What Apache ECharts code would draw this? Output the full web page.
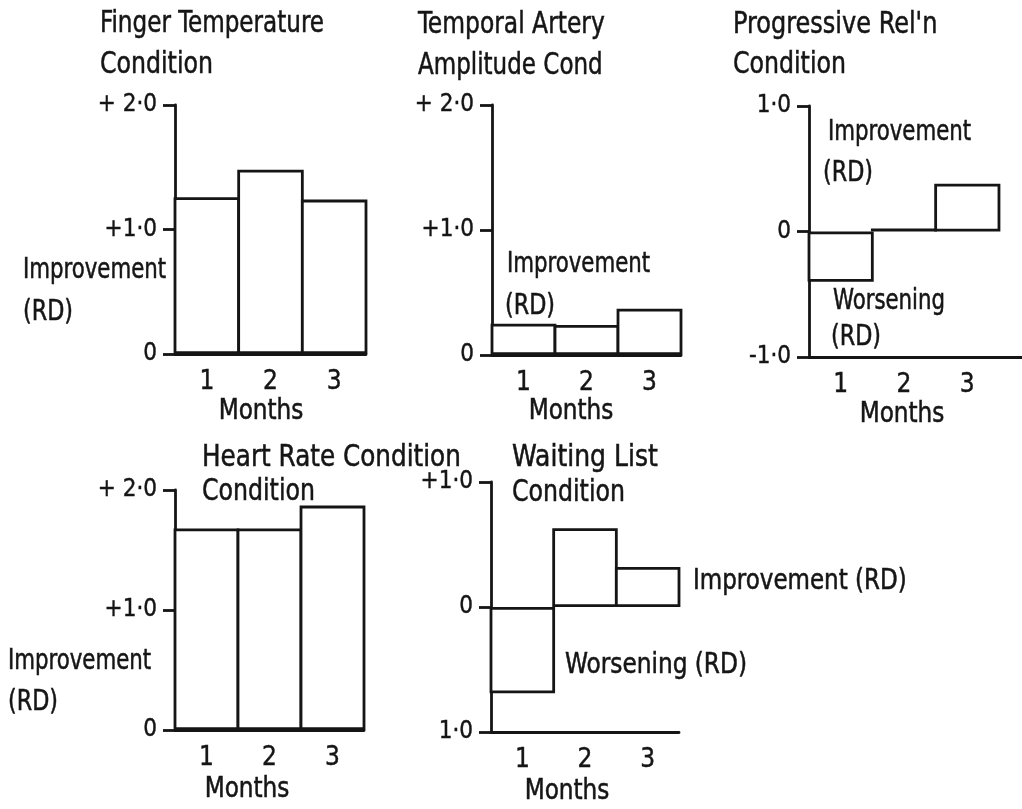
<!DOCTYPE html>
<html>
<head>
<meta charset="utf-8">
<script src="https://cdn.jsdelivr.net/npm/echarts@6/dist/echarts.min.js"></script>
<style>
  html, body { margin: 0; padding: 0; background: #ffffff; }
  #chart { width: 1022px; height: 809px; }
</style>
</head>
<body>
<div id="chart"></div>
<script>
// Monthly change scores (RD) for each treatment condition
const months = ['1', '2', '3'];
const fingerTemp = [1.26, 1.48, 1.24];
const temporalArtery = [0.25, 0.24, 0.37];
const progressiveRel = [-0.40, 0, 0.38];
const heartRate = [1.68, 1.68, 1.87];
const waitingList = [-0.69, 0.63, 0.32];

// Tick labels, listed from the axis minimum upwards
const ticksPositive = ['0', '+1·0', '+ 2·0'];
const ticksProgressive = ['-1·0', '0', '1·0'];
const ticksWaiting = ['1·0', '0', '+1·0'];

const INK = '#151515';
const FONT = '"DejaVu Sans Condensed", "Liberation Sans Narrow", "DejaVu Sans", sans-serif';
const LINE_W = 2.8;

// Panel layout: plotting rectangle and value range of each small chart
const panels = [
  { left: 175, top: 105, width: 191, height: 249, min: 0, max: 2, data: fingerTemp, ticks: ticksPositive, cats: months },
  { left: 492, top: 105, width: 189, height: 250, min: 0, max: 2, data: temporalArtery, ticks: ticksPositive, cats: months },
  // the baseline of this panel runs on past the last month, so it gets an empty fourth slot
  { left: 809, top: 106, width: 253.3, height: 251, min: -1, max: 1, data: progressiveRel, ticks: ticksProgressive, cats: months.concat(['']) },
  { left: 175, top: 490, width: 189, height: 240, min: 0, max: 2, data: heartRate, ticks: ticksPositive, cats: months },
  { left: 491, top: 482, width: 188, height: 250, min: -1, max: 1, data: waitingList, ticks: ticksWaiting, cats: months }
];

// Free-standing captions: [text, x, y, fontSize, align, horizontal squeeze]
const captions = [
  ['Finger Temperature', 100, 24, 30, 'left', 0.856],
  ['Condition', 100, 65, 30, 'left', 0.877],
  ['Temporal Artery', 418, 25, 30, 'left', 0.867],
  ['Amplitude Cond', 418, 66, 30, 'left', 0.853],
  ["Progressive Rel'n", 733, 25, 30, 'left', 0.89],
  ['Condition', 733, 65, 30, 'left', 0.877],
  ['Heart Rate Condition', 202, 458, 30, 'left', 0.915],
  ['Condition', 202, 492, 30, 'left', 0.877],
  ['Waiting List', 512, 458, 30, 'left', 0.93],
  ['Condition', 512, 493, 30, 'left', 0.877],

  ['Improvement', 23, 271, 27.5, 'left', 0.86],
  ['(RD)', 23, 313, 27.5, 'left', 0.9],
  ['Improvement', 507, 265, 27.5, 'left', 0.86],
  ['(RD)', 505, 307, 27.5, 'left', 0.9],
  ['Improvement', 828, 133, 27.5, 'left', 0.86],
  ['(RD)', 823, 174, 27.5, 'left', 0.9],
  ['Worsening', 833, 302, 27.5, 'left', 0.86],
  ['(RD)', 831, 338, 27.5, 'left', 0.9],
  ['Improvement', 8, 662, 27.5, 'left', 0.86],
  ['(RD)', 8, 703, 27.5, 'left', 0.9],
  ['Improvement (RD)', 693, 582, 27.5, 'left', 0.93],
  ['Worsening (RD)', 565, 666, 27.5, 'left', 0.94],

  ['Months', 261, 412, 28, 'center', 0.92],
  ['Months', 571, 412, 28, 'center', 0.92],
  ['Months', 902, 415, 28, 'center', 0.92],
  ['Months', 247, 790, 28, 'center', 0.92],
  ['Months', 567, 792, 28, 'center', 0.92]
];

const lineStyle = { color: INK, width: LINE_W };

const option = {
  backgroundColor: '#ffffff',
  animation: false,
  grid: panels.map(p => ({
    left: p.left, top: p.top, width: p.width, height: p.height,
    containLabel: false, outerBoundsMode: 'none'
  })),
  xAxis: panels.map((p, i) => ({
    type: 'category',
    gridIndex: i,
    data: p.cats,
    axisLine: { show: true, onZero: false, lineStyle: lineStyle },
    axisTick: { show: false },
    splitLine: { show: false },
    axisLabel: {
      margin: 15, color: INK, fontFamily: FONT, fontSize: 26, interval: 0,
      textBorderColor: INK, textBorderWidth: 0.4
    }
  })),
  yAxis: panels.map((p, i) => ({
    type: 'value',
    gridIndex: i,
    min: p.min, max: p.max, interval: 1,
    axisLine: { show: true, lineStyle: lineStyle },
    axisTick: { show: true, length: 12, lineStyle: lineStyle },
    splitLine: { show: false },
    axisLabel: {
      margin: 18, color: INK, fontFamily: FONT, fontSize: 24,
      textBorderColor: INK, textBorderWidth: 0.4,
      formatter: v => p.ticks[Math.round(v - p.min)]
    }
  })),
  series: panels.map((p, i) => ({
    type: 'bar',
    xAxisIndex: i,
    yAxisIndex: i,
    data: p.data,
    // adjacent bars share one outline: widen each by the border so the strokes overlap
    barWidth: p.width / p.cats.length + LINE_W,
    // a zero month still shows as a flat outline on the baseline
    barMinHeight: 3,
    silent: true,
    itemStyle: { color: '#ffffff', borderColor: INK, borderWidth: LINE_W }
  })),
  graphic: captions.map(c => ({
    type: 'text',
    x: c[1], y: c[2],
    scaleX: c[5],
    silent: true,
    style: {
      text: c[0],
      fill: INK,
      stroke: INK,
      lineWidth: 0.5,
      font: c[3] + 'px ' + FONT,
      textAlign: c[4],
      textVerticalAlign: 'middle'
    }
  }))
};

const chart = echarts.init(document.getElementById('chart'), null, { renderer: 'canvas' });
chart.setOption(option);
</script>
</body>
</html>
